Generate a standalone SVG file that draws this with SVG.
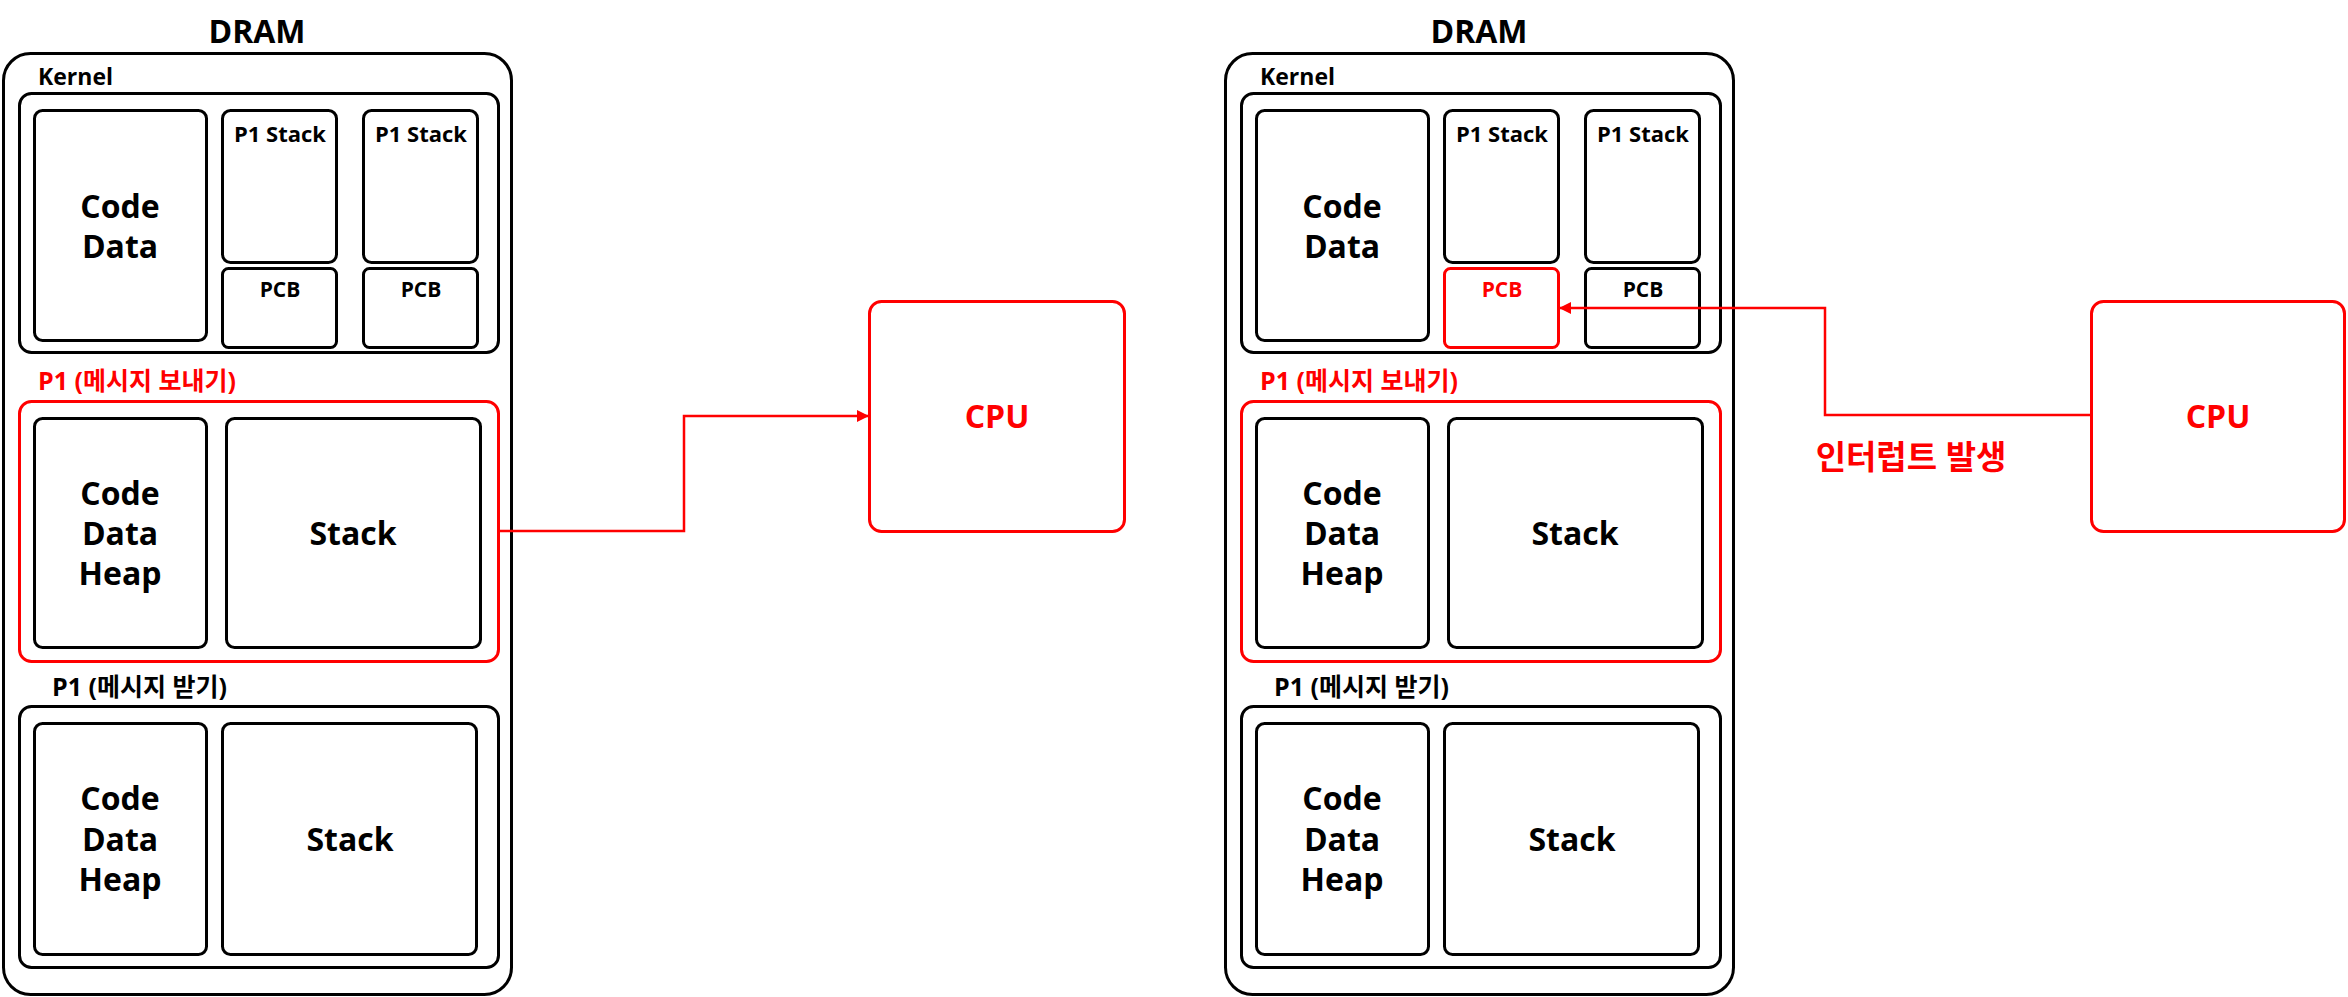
<svg xmlns="http://www.w3.org/2000/svg" width="2348" height="997" viewBox="0 0 2348 997">
<defs>
<style>
text{font-family:"Open Sans","Noto Sans CJK KR",sans-serif;font-weight:700;fill:#000}
.c{text-anchor:middle}
.red{fill:#FF0000}
.b{fill:#fff;stroke:#000;stroke-width:3}
.r{fill:#fff;stroke:#FF0000;stroke-width:3}
.t32{font-size:32px}
.t33{font-size:33px}
.t23{font-size:23px}
.t22{font-size:22px}
.t21{font-size:21px}
.t25{font-size:25px}
.conn{fill:none;stroke:#FF0000;stroke-width:2.5}
</style>
<marker id="ah" markerUnits="userSpaceOnUse" markerWidth="14" markerHeight="14" viewBox="0 0 14 14" refX="13" refY="7" orient="auto">
<path d="M1,1 L13,7 L1,13 Z" fill="#FF0000"/>
</marker>
</defs>

<g id="left-dram">
<text class="c t32" x="257" y="43">DRAM</text>
<rect class="b" x="3.5" y="53.5" width="508" height="941" rx="27"/>
<g id="left-kernel">
<text class="t23" x="38" y="85">Kernel</text>
<rect class="b" x="19.5" y="93.5" width="479" height="259" rx="12"/>
<g id="left-kernel-codedata">
<rect class="b" x="34.5" y="110.5" width="172" height="230" rx="8"/>
<text class="c t32" x="120" y="218">Code</text>
<text class="c t32" x="120" y="258">Data</text>
</g>
<g id="left-p1stack-1">
<rect class="b" x="222.5" y="110.5" width="114" height="152" rx="8"/>
<text class="c t22" x="280" y="142">P1 Stack</text>
</g>
<g id="left-pcb-1">
<rect class="b" x="222.5" y="268.5" width="114" height="79" rx="6"/>
<text class="c t21" x="280" y="297">PCB</text>
</g>
<g id="left-p1stack-2">
<rect class="b" x="363.5" y="110.5" width="114" height="152" rx="8"/>
<text class="c t22" x="421" y="142">P1 Stack</text>
</g>
<g id="left-pcb-2">
<rect class="b" x="363.5" y="268.5" width="114" height="79" rx="6"/>
<text class="c t21" x="421" y="297">PCB</text>
</g>
</g>
<g id="left-p1-send">
<text class="t25 red" x="38" y="390">P1  (메시지 보내기)</text>
<rect class="r" x="19.5" y="401.5" width="479" height="260" rx="12"/>
<rect class="b" x="34.5" y="418.5" width="172" height="229" rx="8"/>
<text class="c t32" x="120" y="505">Code</text>
<text class="c t32" x="120" y="545">Data</text>
<text class="c t32" x="120" y="585">Heap</text>
<rect class="b" x="226.5" y="418.5" width="254" height="229" rx="8"/>
<text class="c t32" x="353" y="545">Stack</text>
</g>
<g id="left-p1-recv">
<text class="t25" x="52" y="696">P1  (메시지 받기)</text>
<rect class="b" x="19.5" y="706.5" width="479" height="261" rx="12"/>
<rect class="b" x="34.5" y="723.5" width="172" height="231" rx="8"/>
<text class="c t32" x="120" y="810">Code</text>
<text class="c t32" x="120" y="851">Data</text>
<text class="c t32" x="120" y="891">Heap</text>
<rect class="b" x="222.5" y="723.5" width="254" height="231" rx="8"/>
<text class="c t32" x="350" y="851">Stack</text>
</g>
</g>

<g id="left-cpu">
<rect class="r" x="869.5" y="301.5" width="255" height="230" rx="12"/>
<text class="c t32 red" x="997" y="428">CPU</text>
</g>

<g id="right-dram" transform="translate(1222,0)">
<text class="c t32" x="257" y="43">DRAM</text>
<rect class="b" x="3.5" y="53.5" width="508" height="941" rx="27"/>
<g id="right-kernel">
<text class="t23" x="38" y="85">Kernel</text>
<rect class="b" x="19.5" y="93.5" width="479" height="259" rx="12"/>
<g id="right-kernel-codedata">
<rect class="b" x="34.5" y="110.5" width="172" height="230" rx="8"/>
<text class="c t32" x="120" y="218">Code</text>
<text class="c t32" x="120" y="258">Data</text>
</g>
<g id="right-p1stack-1">
<rect class="b" x="222.5" y="110.5" width="114" height="152" rx="8"/>
<text class="c t22" x="280" y="142">P1 Stack</text>
</g>
<g id="right-pcb-1">
<rect class="r" x="222.5" y="268.5" width="114" height="79" rx="6"/>
<text class="c t21 red" x="280" y="297">PCB</text>
</g>
<g id="right-p1stack-2">
<rect class="b" x="363.5" y="110.5" width="114" height="152" rx="8"/>
<text class="c t22" x="421" y="142">P1 Stack</text>
</g>
<g id="right-pcb-2">
<rect class="b" x="363.5" y="268.5" width="114" height="79" rx="6"/>
<text class="c t21" x="421" y="297">PCB</text>
</g>
</g>
<g id="right-p1-send">
<text class="t25 red" x="38" y="390">P1  (메시지 보내기)</text>
<rect class="r" x="19.5" y="401.5" width="479" height="260" rx="12"/>
<rect class="b" x="34.5" y="418.5" width="172" height="229" rx="8"/>
<text class="c t32" x="120" y="505">Code</text>
<text class="c t32" x="120" y="545">Data</text>
<text class="c t32" x="120" y="585">Heap</text>
<rect class="b" x="226.5" y="418.5" width="254" height="229" rx="8"/>
<text class="c t32" x="353" y="545">Stack</text>
</g>
<g id="right-p1-recv">
<text class="t25" x="52" y="696">P1  (메시지 받기)</text>
<rect class="b" x="19.5" y="706.5" width="479" height="261" rx="12"/>
<rect class="b" x="34.5" y="723.5" width="172" height="231" rx="8"/>
<text class="c t32" x="120" y="810">Code</text>
<text class="c t32" x="120" y="851">Data</text>
<text class="c t32" x="120" y="891">Heap</text>
<rect class="b" x="222.5" y="723.5" width="254" height="231" rx="8"/>
<text class="c t32" x="350" y="851">Stack</text>
</g>
</g>

<g id="right-cpu">
<rect class="r" x="2091.5" y="301.5" width="253" height="230" rx="12"/>
<text class="c t32 red" x="2218" y="428">CPU</text>
</g>

<g id="connectors">
<path class="conn" d="M499,531 H684 V416 H869" marker-end="url(#ah)"/>
<path class="conn" d="M2091,415 H1825 V308 H1559" marker-end="url(#ah)"/>
<text class="c t33 red" x="1911" y="469">인터럽트 발생</text>
</g>
</svg>
